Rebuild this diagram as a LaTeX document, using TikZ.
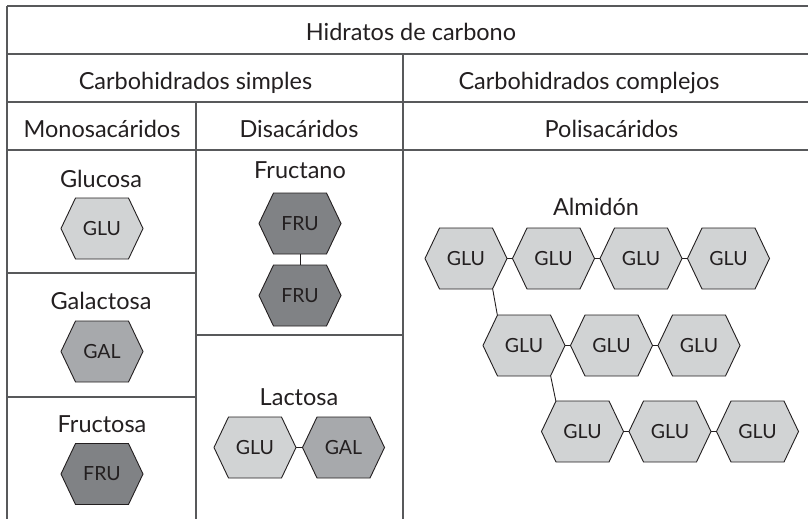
\documentclass[tikz,border=0pt]{standalone}
\usepackage{fontspec}
\setmainfont{Lato}
\usepackage{tikz}

\definecolor{ink}{HTML}{231F20}
\definecolor{rule}{HTML}{58595B}
\definecolor{glucol}{HTML}{D1D3D4}
\definecolor{galcol}{HTML}{A7A9AC}
\definecolor{frucol}{HTML}{808285}

\tikzset{
	grid/.style={draw=rule, line width=1.4pt},
	head/.style={anchor=base, text=ink, inner sep=0pt, font=\fontsize{23.5}{28}\selectfont},
	hexbox/.style={minimum width=82pt, minimum height=61pt, inner sep=0pt, text=ink, font=\fontsize{19.5}{22}\selectfont},
	hexline/.style={draw=ink, line width=0.9pt, line join=miter},
	bond/.style={draw=ink, line width=0.9pt}
}

% hexagon: name, centre, colour, text
\newcommand{\hexa}[4]{%
	\filldraw[hexline, fill=#3, shift={(#2)}] (-41,0) -- (-26.5,-30.5) -- (26.5,-30.5) -- (41,0) -- (26.5,30.5) -- (-26.5,30.5) -- cycle;
	\node[hexbox] (#1) at (#2) {#4};
}

\begin{document}
\begin{tikzpicture}[x=1pt,y=-1pt]

	\useasboundingbox (0,0) rectangle (808,519);

	% table
	\draw[grid] (7,6) -- (808,6);
	\draw[grid] (7,54) -- (808,54);
	\draw[grid] (7,102) -- (808,102);
	\draw[grid] (7,150) -- (808,150);
	\draw[grid] (7,6) -- (7,519);
	\draw[grid] (403,54) -- (403,519);
	\draw[grid] (196,102) -- (196,519);
	\draw[grid] (7,273) -- (196,273);
	\draw[grid] (7,397) -- (196,397);
	\draw[grid] (196,335) -- (403,335);

	\node[head] (hidratos) at (411,40.7) {Hidratos de carbono};
	\node[head] (simples) at (195.5,89) {Carbohidrados simples};
	\node[head] (complejos) at (589,89) {Carbohidrados complejos};
	\node[head] (mono) at (102,137) {Monosacáridos};
	\node[head] (di) at (299,137) {Disacáridos};
	\node[head] (poli) at (611.5,137) {Polisacáridos};

	% monosacaridos
	\node[head] (glucosa) at (101,187) {Glucosa};
	\hexa{glu}{102,228.5}{glucol}{GLU}
	\node[head] (galactosa) at (101,309) {Galactosa};
	\hexa{gal}{102,351.5}{galcol}{GAL}
	\node[head] (fructosa) at (102,432) {Fructosa};
	\hexa{fru}{102,474}{frucol}{FRU}

	% disacaridos
	\node[head] (fructano) at (300,178) {Fructano};
	\hexa{fruA}{300,223.5}{frucol}{FRU}
	\hexa{fruB}{300,295.5}{frucol}{FRU}
	\draw[bond] (fruA.south) -- (fruB.north);

	\node[head] (lactosa) at (299,405) {Lactosa};
	\hexa{lacglu}{255,447.5}{glucol}{GLU}
	\hexa{lacgal}{343.5,447.5}{galcol}{GAL}
	\draw[bond] (lacglu.east) -- (lacgal.west);

	% polisacaridos
	\node[head] (almidon) at (596,215) {Almidón};
	\hexa{aa}{466,258.5}{glucol}{GLU}
	\hexa{ab}{553.5,258.5}{glucol}{GLU}
	\hexa{ac}{641,258.5}{glucol}{GLU}
	\hexa{ad}{728.5,258.5}{glucol}{GLU}

	\hexa{ba}{524,345.5}{glucol}{GLU}
	\hexa{bb}{611.5,345.5}{glucol}{GLU}
	\hexa{bc}{699,345.5}{glucol}{GLU}

	\hexa{ca}{582.5,431.5}{glucol}{GLU}
	\hexa{cb}{670,431.5}{glucol}{GLU}
	\hexa{cc}{757.5,431.5}{glucol}{GLU}

	\draw[bond] (aa.east) -- (ab.west);
	\draw[bond] (ab.east) -- (ac.west);
	\draw[bond] (ac.east) -- (ad.west);
	\draw[bond] (ba.east) -- (bb.west);
	\draw[bond] (bb.east) -- (bc.west);
	\draw[bond] (ca.east) -- (cb.west);
	\draw[bond] (cb.east) -- (cc.west);

	\draw[bond] ([xshift=-14.5pt]aa.south east) -- ([xshift=14.5pt]ba.north west);
	\draw[bond] ([xshift=-14.5pt]ba.south east) -- ([xshift=14.5pt]ca.north west);
\end{tikzpicture}
\end{document}
